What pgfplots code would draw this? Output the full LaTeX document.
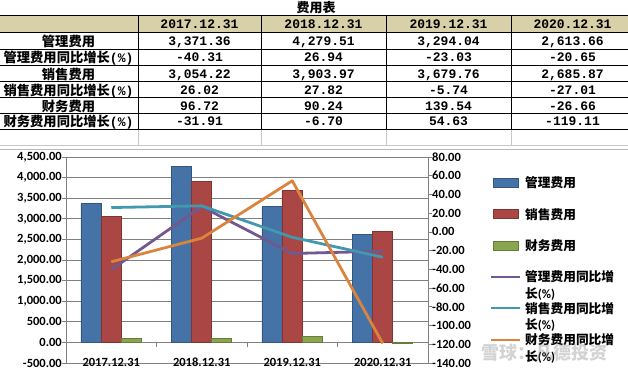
\documentclass[border=0pt]{standalone}
\usepackage{pgfplots}
\pgfplotsset{compat=1.18}
\usepackage{fontspec}
\setmainfont{Carlito}
\newfontfamily\cjk{Noto Sans CJK SC}
\newfontfamily\mono{Liberation Mono}
\definecolor{hdr}{RGB}{216,208,168}
\definecolor{cA}{RGB}{69,114,167}
\definecolor{cB}{RGB}{170,70,67}
\definecolor{cC}{RGB}{137,165,78}
\definecolor{cD}{RGB}{113,88,143}
\definecolor{cE}{RGB}{65,152,175}
\definecolor{cF}{RGB}{219,132,61}
\definecolor{gridc}{RGB}{128,128,128}
\definecolor{cellc}{RGB}{200,200,200}

\newcommand\tfont{\fontsize{12.5}{14}\selectfont\bfseries}
\newcommand\cjkt{\cjk\bfseries\fontsize{13.3}{15}\selectfont}
\newcommand\monot{\mono\bfseries\fontsize{13}{15}\selectfont}
\newcommand\legt{\fontsize{12.7}{16.5}\selectfont\bfseries}
\newcommand\twoline[2]{\smash{\vtop{\baselineskip=16.5pt\hbox{#1}\hbox{#2}}}}
\newcommand\rowhead[2]{\node[anchor=base,inner sep=0pt] at (68.5,#1) {#2};}
\newcommand\vals[5]{%
  \node[anchor=base,inner sep=0pt,font=\monot] at (199.5,#1) {#2};
  \node[anchor=base,inner sep=0pt,font=\monot] at (323.5,#1) {#3};
  \node[anchor=base,inner sep=0pt,font=\monot] at (448.5,#1) {#4};
  \node[anchor=base,inner sep=0pt,font=\monot] at (572.5,#1) {#5};}

\pgfplotsset{myax/.style={
  at={(66pt,-363pt)}, anchor=south west, scale only axis,
  width=362pt, height=206pt, xmin=-0.5, xmax=3.5,
  tick align=outside, major tick length=4pt,
  tick style={gridc, line width=0.8pt},
  axis line style={gridc, line width=0.8pt},
  ticklabel style={font=\tfont},
  /pgf/number format/.cd, fixed, fixed zerofill, precision=2, 1000 sep={,}, assume math mode=true,
  /pgfplots/.cd,
  yticklabel={\pgfmathprintnumber{\tick}},
}}

\begin{document}
\begin{tikzpicture}
\useasboundingbox (0,0) rectangle (628pt,-374pt);
\begin{scope}[x=1pt,y=-1pt]
  % title
  \node[anchor=base,inner sep=0pt,font=\cjk\bfseries\fontsize{13}{15}\selectfont] at (316,12.4) {费用表};
  % header fill
  \fill[hdr] (0,15.7) rectangle (628,32.3);
  % cell lines below table
  \foreach \xx in {138,261,386,511} \draw[cellc, line width=0.8pt] (\xx,129) -- (\xx,145);
  \draw[cellc, line width=0.8pt] (0,145) -- (628,145);
  \draw[cellc!80!gray, line width=0.8pt] (0,149.3) -- (628,149.3);
  % table lines
  \foreach \yy in {15.7,49.3,65.3,81.7,97.7,113.3,129} \draw[black, line width=0.9pt] (0,\yy) -- (628,\yy);
  \draw[black, line width=1.4pt] (0,32.3) -- (628,32.3);
  \foreach \xx in {138,261,386,511} \draw[black, line width=0.9pt] (\xx,15.7) -- (\xx,129);
  % header
  \vals{28.65}{2017.12.31}{2018.12.31}{2019.12.31}{2020.12.31}
  % rows
  \rowhead{46.45}{\cjkt 管理费用}
  \vals{45.45}{3,371.36}{4,279.51}{3,294.04}{2,613.66}
  \rowhead{62.95}{{\cjkt 管理费用同比增长}{\monot(\%)}}
  \vals{61.95}{-40.31}{26.94}{-23.03}{-20.65}
  \rowhead{79.15}{\cjkt 销售费用}
  \vals{78.15}{3,054.22}{3,903.97}{3,679.76}{2,685.87}
  \rowhead{95.35}{{\cjkt 销售费用同比增长}{\monot(\%)}}
  \vals{94.35}{26.02}{27.82}{-5.74}{-27.01}
  \rowhead{111.15}{\cjkt 财务费用}
  \vals{110.15}{96.72}{90.24}{139.54}{-26.66}
  \rowhead{126.8}{{\cjkt 财务费用同比增长}{\monot(\%)}}
  \vals{125.8}{-31.91}{-6.70}{54.63}{-119.11}
\end{scope}

% ---------- left axis: bars ----------
\begin{axis}[myax,
  ymin=-500, ymax=4500,
  ytick={-500,0,500,1000,1500,2000,2500,3000,3500,4000,4500},
  axis y line*=left, axis x line*=bottom,
  ymajorgrids, grid style={gridc, line width=0.8pt},
  xtick={0,1,2,3},
  xticklabels={2017.12.31,2018.12.31,2019.12.31,2020.12.31},
  xtick style={draw=none},
  xticklabel style={anchor=base, inner sep=0pt, yshift=0.3pt},
  yticklabel style={inner sep=0pt},
]
\addplot[ybar, bar width=20pt, bar shift=-20.3pt, fill=cA, draw=cA!75!black, line width=0.6pt]
  coordinates {(0,3371.36) (1,4279.51) (2,3294.04) (3,2613.66)};
\addplot[ybar, bar width=20pt, bar shift=-0.3pt, fill=cB, draw=cB!75!black, line width=0.6pt]
  coordinates {(0,3054.22) (1,3903.97) (2,3679.76) (3,2685.87)};
\addplot[ybar, bar width=20pt, bar shift=19.7pt, fill=cC, draw=cC!75!black, line width=0.6pt]
  coordinates {(0,96.72) (1,90.24) (2,139.54) (3,-26.66)};
\draw[gridc, line width=0.8pt] (axis cs:0.5,0) -- ++(0pt,-5pt);
\draw[gridc, line width=0.8pt] (axis cs:1.5,0) -- ++(0pt,-5pt);
\draw[gridc, line width=0.8pt] (axis cs:2.5,0) -- ++(0pt,-5pt);
\end{axis}

% ---------- right axis: growth lines ----------
\begin{axis}[myax,
  ymin=-140, ymax=80,
  ytick={-140,-120,-100,-80,-60,-40,-20,0,20,40,60,80},
  axis y line*=right, hide x axis,
  yticklabel style={inner sep=0pt},
  legend cell align=left,
  legend image code/.code={\draw[#1, line width=2.2pt] (0pt,0pt) -- (29pt,0pt);},
  legend style={at={(1.1713,0.899)}, anchor=north west, draw=none, fill=none,
    inner sep=0pt, outer sep=0pt, row sep=21.6pt, column sep=4pt, font=\legt,
    nodes={inner sep=0pt, text height=9.8pt, text depth=0pt}},
]
\addlegendimage{legend image code/.code={\draw[fill=cA, draw=cA!75!black, line width=0.6pt] (2pt,-4.35pt) rectangle (27pt,4.35pt);}}
\addlegendentry{\cjk 管理费用}
\addlegendimage{legend image code/.code={\draw[fill=cB, draw=cB!75!black, line width=0.6pt] (2pt,-4.35pt) rectangle (27pt,4.35pt);}}
\addlegendentry{\cjk 销售费用}
\addlegendimage{legend image code/.code={\draw[fill=cC, draw=cC!75!black, line width=0.6pt] (2pt,-4.35pt) rectangle (27pt,4.35pt);}}
\addlegendentry{\cjk 财务费用}
\addplot[cD, line width=2.8pt, line join=round]
  coordinates {(0,-40.31) (1,26.94) (2,-23.03) (3,-20.65)};
\addlegendentry{\twoline{\cjk 管理费用同比增}{{\cjk 长}(\%)}}
\addplot[cE, line width=2.8pt, line join=round]
  coordinates {(0,26.02) (1,27.82) (2,-5.74) (3,-27.01)};
\addlegendentry{\twoline{\cjk 销售费用同比增}{{\cjk 长}(\%)}}
\addplot[cF, line width=2.8pt, line join=round]
  coordinates {(0,-31.91) (1,-6.70) (2,54.63) (3,-119.11)};
\addlegendentry{\twoline{\cjk 财务费用同比增}{{\cjk 长}(\%)}}
\end{axis}

\node[text=gray, opacity=0.35, inner sep=0pt, font=\cjk\bfseries\fontsize{18}{20}\selectfont] at (544.5pt,-353pt) {雪球：凡德投资};
\end{tikzpicture}
\end{document}
